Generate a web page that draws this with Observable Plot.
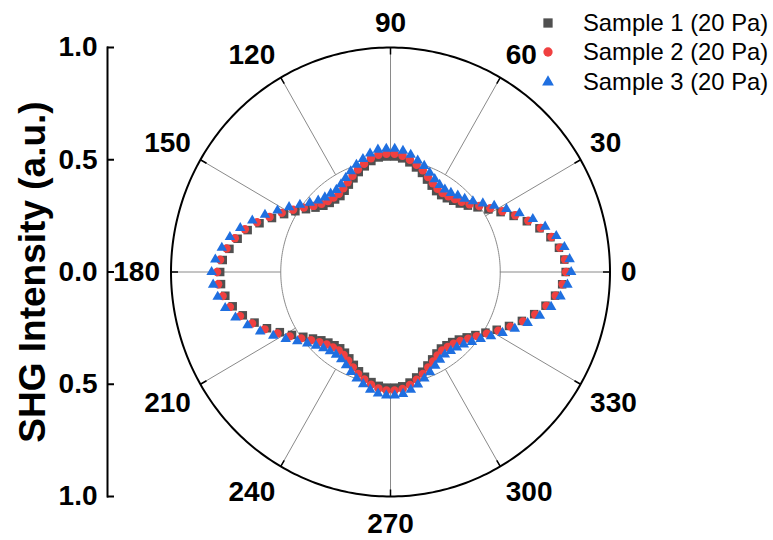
<!DOCTYPE html>
<html>
<head>
<meta charset="utf-8">
<script src="https://cdn.jsdelivr.net/npm/d3@7"></script>
<script src="https://cdn.jsdelivr.net/npm/@observablehq/plot@0.6"></script>
<style>
  body { margin: 0; background: #fff; }
  #chart { position: relative; width: 773px; height: 540px; font-family: "Liberation Sans", Arial, sans-serif; }
  #legend { position: absolute; left: 536px; top: 8px; }
  .row { display: flex; align-items: center; height: 29.5px; font-size: 23.8px; color: #000; white-space: nowrap; }
  .row svg { width: 24px; height: 24px; margin-right: 23px; overflow: visible; }
</style>
</head>
<body>
<div id="chart"><div id="legend"></div></div>
<script>
// Polarisation angle of each measurement (degrees)
const angles = [
  0, 4, 8, 12, 16, 20, 24, 28, 32, 36, 40, 44, 48, 52, 56, 60, 64, 68, 72, 76, 80, 84, 88,
  92, 96, 100, 104, 108, 112, 116, 120, 124, 128, 132, 136, 140, 144, 148, 152, 156, 160, 164, 168, 172, 176,
  180,
  184, 188, 192, 196, 200, 204, 208, 212, 216, 220, 224, 228, 232, 236, 240, 244, 248, 252, 256, 260, 264, 268,
  272, 276, 280, 284, 288, 292, 296, 300, 304, 308, 312, 316, 320, 324, 328, 332, 336, 340, 344, 348, 352, 356
];

// Normalised SHG intensity for each sample
const sample1 = [
  .798, .794, .775, .745, .706, .661, .614, .568, .526, .490, .460, .439, .427, .417, .413, .416, .428, .444, .464, .480, .496, .509, .515,
  .515, .513, .502, .485, .468, .450, .433, .418, .408, .410, .414, .425, .446, .476, .511, .549, .591, .635, .677, .712, .741, .766,
  .776,
  .774, .760, .735, .700, .659, .616, .571, .529, .491, .461, .438, .423, .414, .410, .415, .428, .446, .465, .481, .498, .510, .516,
  .516, .512, .500, .484, .467, .449, .433, .419, .411, .414, .420, .433, .453, .478, .510, .548, .591, .637, .681, .722, .757, .784
];
const sample2 = [
  .800, .797, .779, .750, .712, .668, .622, .577, .536, .500, .470, .450, .438, .428, .424, .428, .440, .456, .476, .492, .508, .521, .527,
  .527, .525, .514, .497, .480, .462, .445, .430, .420, .421, .426, .437, .458, .488, .523, .561, .603, .647, .690, .725, .754, .778,
  .790,
  .787, .772, .748, .713, .671, .628, .583, .541, .503, .473, .450, .435, .426, .422, .427, .440, .458, .477, .493, .510, .522, .528,
  .528, .524, .511, .494, .477, .459, .443, .429, .421, .424, .430, .442, .462, .486, .518, .556, .598, .643, .686, .726, .760, .786
];
const sample3 = [
  .823, .818, .800, .772, .733, .690, .643, .598, .557, .520, .490, .470, .458, .447, .443, .448, .460, .477, .497, .512, .530, .543, .549,
  .549, .548, .536, .519, .502, .484, .466, .451, .441, .443, .447, .458, .480, .510, .545, .583, .626, .670, .712, .748, .776, .800,
  .815,
  .810, .795, .770, .735, .693, .650, .605, .563, .525, .495, .472, .457, .448, .444, .449, .462, .480, .499, .515, .532, .544, .550,
  .550, .546, .533, .516, .499, .481, .465, .451, .443, .446, .452, .464, .484, .508, .540, .578, .620, .665, .708, .748, .782, .808
];

const seriesNames = ["Sample 1 (20 Pa)", "Sample 2 (20 Pa)", "Sample 3 (20 Pa)"];
const gridAngles = [0, 30, 60, 90, 120, 150, 180, 210, 240, 270, 300, 330];
const radialTicks = [1, 0.5, 0, -0.5, -1];
const innerRing = 0.5;

const colors = ["#505050", "#f04040", "#1f6fe0"];
const symbols = ["square", "circle", "triangle"];
const symbolR = [4.8, 4.2, 3.9];

const rad = (a) => a * Math.PI / 180;
const toRows = (values, name) => angles.map((a, i) => ({
  series: name,
  angle: a,
  r: values[i],
  x: values[i] * Math.cos(rad(a)),
  y: values[i] * Math.sin(rad(a))
}));
const datasets = [sample1, sample2, sample3].map((v, i) => toRows(v, seriesNames[i]));

// Geometry of the polar frame in pixels
const xRange = [170.5, 609.5];
const margin = { top: 47, bottom: 44, left: 107 };
const H = 540, W = 773;
const Rx = (xRange[1] - xRange[0]) / 2;
const Ry = (H - margin.bottom - margin.top) / 2;

// Angle labels sit just outside the circle, their box pushed away from it
const labelFont = 28;
function labelPos(a) {
  const c = Math.cos(rad(a)), s = Math.sin(rad(a));
  const w = String(a).length * 0.556 * labelFont;
  const h = 0.716 * labelFont;
  const ox = 11 * c + (Math.abs(c) > 0.01 ? Math.sign(c) * w / 2 : 0);
  const oy = (s > 0 ? 14 : 18) * s + (Math.abs(s) > 0.01 ? Math.sign(s) * h / 2 : 0);
  return { x: c + ox / Rx, y: s + oy / Ry };
}

const ring = d3.range(0, 361, 1);
const tickLen = 7;

const chart = Plot.plot({
  width: W,
  height: H,
  marginLeft: margin.left,
  marginTop: margin.top,
  marginBottom: margin.bottom,
  marginRight: 0,
  x: { domain: [-1, 1], range: xRange, axis: null },
  y: { domain: [-1, 1], axis: null },
  style: { fontFamily: '"Liberation Sans", Arial, sans-serif', background: "#fff", color: "#000" },
  marks: [
    // radial intensity axis on the left
    Plot.frame({ anchor: "left", stroke: "#000", strokeWidth: 2 }),
    Plot.axisY(radialTicks, {
      anchor: "left",
      tickSize: -7,
      tickPadding: 17,
      strokeWidth: 2,
      tickFormat: (d) => Math.abs(d).toFixed(1),
      fontSize: labelFont,
      fontWeight: "bold",
      label: null
    }),
    Plot.text(["SHG Intensity (a.u.)"], {
      frameAnchor: "left",
      dx: -74,
      rotate: -90,
      fontSize: 37,
      fontWeight: "bold",
      textAnchor: "middle",
      lineAnchor: "middle"
    }),
    // spokes between the inner ring and the outer circle
    Plot.link(gridAngles, {
      x1: (a) => innerRing * Math.cos(rad(a)),
      y1: (a) => innerRing * Math.sin(rad(a)),
      x2: (a) => Math.cos(rad(a)),
      y2: (a) => Math.sin(rad(a)),
      stroke: "#8a8a8a",
      strokeWidth: 1
    }),
    Plot.line(ring, {
      x: (a) => innerRing * Math.cos(rad(a)),
      y: (a) => innerRing * Math.sin(rad(a)),
      stroke: "#8a8a8a",
      strokeWidth: 1
    }),
    Plot.line(ring, {
      x: (a) => Math.cos(rad(a)),
      y: (a) => Math.sin(rad(a)),
      stroke: "#000",
      strokeWidth: 2
    }),
    // inward ticks on the outer circle
    Plot.link(gridAngles, {
      x1: (a) => Math.cos(rad(a)),
      y1: (a) => Math.sin(rad(a)),
      x2: (a) => (1 - tickLen / Rx) * Math.cos(rad(a)),
      y2: (a) => (1 - tickLen / Ry) * Math.sin(rad(a)),
      stroke: "#000",
      strokeWidth: 1.5
    }),
    Plot.text(gridAngles, {
      x: (a) => labelPos(a).x,
      y: (a) => labelPos(a).y,
      text: (a) => String(a),
      fontSize: labelFont,
      fontWeight: "bold",
      textAnchor: "middle",
      lineAnchor: "middle"
    }),
    // measured points
    ...datasets.map((rows, i) => Plot.dot(rows, {
      x: "x",
      y: "y",
      symbol: symbols[i],
      r: symbolR[i],
      fill: colors[i],
      stroke: "none"
    }))
  ]
});
document.getElementById("chart").prepend(chart);

// legend
const legend = d3.select("#legend");
const legendSizes = [86, 68, 60];
const legendTypes = [d3.symbolSquare, d3.symbolCircle, d3.symbolTriangle];
seriesNames.forEach((name, i) => {
  const row = legend.append("div").attr("class", "row");
  const svg = row.append("svg").attr("viewBox", "-12 -12 24 24");
  svg.append("path")
    .attr("d", d3.symbol(legendTypes[i], legendSizes[i])())
    .attr("fill", colors[i]);
  row.append("span").text(name);
});
</script>
</body>
</html>
